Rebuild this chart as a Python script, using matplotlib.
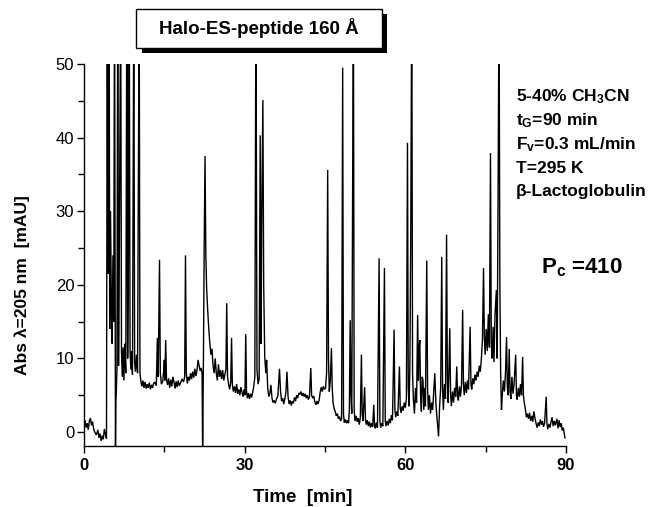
import matplotlib
matplotlib.use("Agg")
import matplotlib.pyplot as plt
from matplotlib.patches import Rectangle
from matplotlib.ticker import MultipleLocator

plt.rcParams['font.family'] = ['Liberation Sans', 'DejaVu Sans']
plt.rcParams['mathtext.fontset'] = 'custom'
plt.rcParams['mathtext.rm'] = 'Liberation Sans:bold'
plt.rcParams['mathtext.it'] = 'Liberation Sans:bold'
plt.rcParams['mathtext.bf'] = 'Liberation Sans:bold'

# chromatogram vertices (time [min], absorbance [mAU]); values >50 are off-scale
trace = [
    (0.0, 0.5), (0.2, 1.6), (0.4, 0.6), (0.6, 1.2), (0.8, 0.3), (1.0, 1.5), (1.2, 1.9), (1.4, 0.9),
    (1.6, 1.4), (1.8, 0.4), (2.0, 0.0), (2.3, -0.4), (2.6, 0.3), (2.8, -0.8), (3.0, -0.2), (3.2, -1.2),
    (3.4, -0.5), (3.6, -1.0), (3.8, 0.4), (4.0, -0.3), (4.2, -0.9),
    (4.35, 60), (4.45, 21.5), (4.55, 30), (4.7, 60), (4.8, 14), (4.95, 30), (5.1, 18), (5.25, 12),
    (5.4, 24), (5.55, 15), (5.7, 60), (5.82, 20), (5.88, -2.5), (5.95, 4.3), (6.05, 6.0), (6.15, 8.5),
    (6.3, 60), (6.45, 9.0), (6.6, 25), (6.85, 60), (7.0, 11), (7.15, 7.5), (7.3, 11.5), (7.45, 7.0),
    (7.6, 12), (7.8, 8.0), (8.0, 60), (8.15, 10), (8.3, 25), (8.45, 60), (8.6, 11), (8.75, 8.5),
    (8.9, 11), (9.05, 7.8), (9.3, 60), (9.45, 9.5), (9.6, 8.2), (9.8, 10.5), (10.0, 8.0), (10.3, 60),
    (10.45, 8.0), (10.6, 7.0), (10.8, 6.2), (11.0, 7.0), (11.2, 6.0), (11.4, 6.8), (11.6, 5.9),
    (11.8, 6.5), (12.0, 6.0), (12.2, 6.7), (12.4, 5.8), (12.6, 6.4), (12.8, 6.0), (13.0, 6.6),
    (13.2, 6.8), (13.5, 6.3), (13.7, 12.8), (13.85, 7.5), (14.1, 23.4), (14.25, 8.0), (14.45, 6.5),
    (14.7, 6.9), (14.9, 8.5), (15.0, 9.8), (15.1, 7.0), (15.25, 12.5), (15.4, 7.2), (15.6, 6.4),
    (15.8, 7.3), (16.0, 6.0), (16.2, 7.1), (16.4, 6.2), (16.6, 7.5), (16.8, 6.8), (17.0, 5.9),
    (17.2, 6.9), (17.4, 6.1), (17.6, 7.0), (17.8, 6.3), (18.0, 6.6), (18.3, 7.2), (18.6, 6.8),
    (18.8, 7.5), (18.95, 24.0), (19.1, 8.0), (19.3, 6.6), (19.5, 7.5), (19.7, 7.0), (19.9, 8.0),
    (20.1, 7.2), (20.3, 8.2), (20.5, 7.4), (20.7, 8.6), (20.9, 7.6), (21.1, 8.4), (21.3, 9.8),
    (21.5, 9.0), (21.7, 8.3), (21.9, 8.7), (22.05, 7.9), (22.15, -2.5), (22.3, 10.0), (22.45, 26.0),
    (22.6, 37.5), (22.75, 24), (22.9, 19.5), (23.1, 16.5), (23.3, 14.0), (23.5, 12.0), (23.7, 10.5),
    (23.9, 11.3), (24.1, 9.0), (24.3, 8.0), (24.5, 10.0), (24.7, 8.0), (24.9, 7.0), (25.1, 9.2),
    (25.3, 7.5), (25.5, 8.4), (25.7, 7.2), (25.9, 8.4), (26.1, 7.0), (26.3, 7.8), (26.5, 8.5),
    (26.65, 17.5), (26.8, 7.5), (27.0, 6.5), (27.2, 5.8), (27.4, 6.8), (27.55, 12.8), (27.7, 6.4),
    (27.9, 5.5), (28.1, 6.2), (28.3, 5.3), (28.5, 6.5), (28.7, 5.2), (28.9, 5.8), (29.1, 5.0),
    (29.3, 6.1), (29.5, 5.4), (29.7, 4.8), (29.9, 5.8), (30.05, 5.0), (30.2, 13.3), (30.35, 5.5),
    (30.5, 4.6), (30.7, 5.3), (30.9, 4.5), (31.1, 5.2), (31.3, 4.7), (31.5, 5.4), (31.7, 6.2),
    (31.9, 7.5), (32.1, 60), (32.3, 8.5), (32.5, 6.5), (32.7, 7.2), (32.9, 40.3), (33.05, 12),
    (33.2, 30), (33.4, 45.1), (33.55, 20), (33.75, 10.2), (33.95, 8.0), (34.1, 9.8), (34.3, 6.0),
    (34.5, 4.8), (34.7, 5.2), (34.9, 6.4), (35.1, 4.6), (35.3, 4.0), (35.5, 4.3), (35.7, 3.9),
    (35.9, 4.4), (36.2, 4.9), (36.5, 8.6), (36.7, 5.5), (36.9, 4.2), (37.1, 4.6), (37.3, 3.8),
    (37.5, 4.5), (37.7, 5.4), (37.9, 8.2), (38.1, 4.8), (38.3, 3.8), (38.5, 4.3), (38.7, 3.6),
    (38.9, 4.2), (39.1, 3.9), (39.3, 4.7), (39.5, 4.2), (39.7, 5.0), (39.9, 4.6), (40.1, 5.3),
    (40.3, 5.1), (40.5, 5.5), (40.7, 4.9), (40.9, 5.3), (41.1, 4.8), (41.3, 5.2), (41.5, 4.6),
    (41.7, 5.0), (41.9, 4.4), (42.1, 4.8), (42.35, 8.7), (42.5, 5.0), (42.7, 4.6), (42.9, 4.9),
    (43.1, 4.1), (43.3, 3.7), (43.5, 4.2), (43.7, 3.8), (43.9, 4.3), (44.1, 5.4), (44.3, 6.1),
    (44.5, 5.5), (44.7, 6.2), (44.9, 5.8), (45.1, 6.0), (45.3, 8.0), (45.5, 35.6), (45.65, 10.0),
    (45.8, 5.5), (46.0, 7.0), (46.2, 11.4), (46.35, 6.0), (46.5, 4.0), (46.7, 3.2), (46.9, 2.8),
    (47.1, 2.2), (47.3, 2.5), (47.5, 1.8), (47.7, 2.1), (47.9, 1.5), (48.1, 1.8), (48.3, 49.5),
    (48.45, 2.5), (48.6, 1.3), (48.8, 1.7), (49.0, 1.2), (49.2, 1.6), (49.4, 1.2), (49.55, 3.0),
    (49.7, 15.2), (49.85, 5.0), (50.0, 2.5), (50.3, 60), (50.45, 3.0), (50.6, 1.5), (50.8, 2.2),
    (51.0, 1.4), (51.2, 1.9), (51.4, 1.0), (51.6, 2.0), (51.8, 10.5), (51.95, 2.5), (52.1, 1.5),
    (52.4, 6.1), (52.55, 1.8), (52.7, 1.0), (52.9, 1.6), (53.1, 0.8), (53.3, 1.4), (53.5, 0.6),
    (53.7, 1.2), (53.9, 0.7), (54.1, 3.7), (54.25, 0.9), (54.4, 0.5), (54.6, 1.3), (54.8, 0.6),
    (55.1, 23.6), (55.25, 1.5), (55.4, 0.6), (55.6, 1.2), (55.8, 0.8), (56.1, 22.3), (56.25, 1.5),
    (56.4, 0.8), (56.6, 1.5), (56.8, 0.9), (57.0, 1.8), (57.2, 1.2), (57.4, 2.3), (57.6, 1.6),
    (57.9, 13.9), (58.05, 3.0), (58.2, 2.0), (58.4, 2.8), (58.6, 2.2), (58.9, 8.9), (59.05, 3.2),
    (59.2, 2.6), (59.4, 3.5), (59.6, 2.9), (59.8, 4.0), (60.0, 3.3), (60.2, 4.5), (60.4, 39.3),
    (60.55, 6.0), (60.7, 3.5), (60.85, 9.0), (61.0, 25.0), (61.2, 60), (61.35, 8.0), (61.5, 4.5),
    (61.7, 2.5), (61.9, 6.0), (62.1, 4.0), (62.3, 15.9), (62.45, 7.0), (62.55, 11), (62.7, 12.5),
    (62.85, 5.0), (63.0, 2.8), (63.15, 7.5), (63.3, 7.0), (63.45, 3.0), (63.6, 6.0), (63.75, 3.5),
    (64.0, 23.3), (64.15, 6.0), (64.3, 3.0), (64.5, 5.0), (64.7, 2.5), (64.9, 4.0), (65.1, 3.0),
    (65.3, 5.5), (65.5, 8.0), (65.7, 4.0), (65.9, 2.0), (66.2, -0.6), (66.4, 3.5), (66.6, 6.0),
    (66.8, 23.8), (66.95, 6.0), (67.1, 3.0), (67.3, 6.5), (67.5, 4.5), (67.7, 26.8), (67.85, 7.0),
    (68.0, 4.0), (68.3, 14.1), (68.45, 5.0), (68.6, 3.5), (68.8, 5.5), (69.0, 4.0), (69.2, 6.0),
    (69.4, 4.8), (69.6, 8.9), (69.75, 5.0), (69.9, 4.3), (70.1, 6.2), (70.3, 4.8), (70.5, 6.5),
    (70.7, 16.6), (70.85, 6.5), (71.0, 5.0), (71.2, 6.8), (71.4, 5.3), (71.6, 7.0), (71.8, 5.8),
    (72.1, 14.3), (72.25, 6.5), (72.4, 5.8), (72.6, 7.3), (72.8, 6.5), (73.0, 7.8), (73.2, 7.0),
    (73.4, 8.2), (73.6, 7.5), (73.8, 9.0), (74.0, 8.2), (74.2, 10.0), (74.4, 12.5), (74.6, 22.3),
    (74.75, 13.0), (74.9, 10.5), (75.1, 14.0), (75.3, 11.0), (75.5, 16.0), (75.7, 11.5), (75.9, 37.9),
    (76.05, 12.0), (76.2, 10.0), (76.4, 14.3), (76.55, 9.5), (76.75, 16.0), (77.0, 19.3), (77.15, 10.0),
    (77.3, 30.0), (77.5, 60), (77.65, 20), (77.8, 8.0), (77.95, 3.0), (78.1, 5.0), (78.3, 7.0),
    (78.5, 5.5), (78.7, 8.0), (78.9, 12.9), (79.05, 6.0), (79.2, 5.0), (79.4, 11.3), (79.55, 5.5),
    (79.7, 4.5), (79.9, 7.5), (80.1, 5.2), (80.3, 6.5), (80.6, 10.5), (80.75, 5.0), (80.9, 4.4),
    (81.1, 6.0), (81.3, 4.8), (81.5, 6.5), (81.7, 5.0), (81.9, 10.2), (82.05, 5.0), (82.2, 4.0),
    (82.4, 3.2), (82.6, 2.0), (82.8, 2.5), (83.0, 1.8), (83.2, 2.6), (83.4, 1.5), (83.6, 2.2),
    (83.8, 1.4), (84.0, 2.8), (84.2, 1.9), (84.4, 1.2), (84.6, 0.6), (84.8, 1.3), (85.0, 0.8),
    (85.2, 1.7), (85.4, 1.0), (85.6, 1.5), (85.8, 0.7), (86.0, 1.2), (86.3, 4.8), (86.45, 1.0),
    (86.6, 0.4), (86.8, 1.1), (87.0, 0.6), (87.2, 1.4), (87.4, 2.0), (87.6, 0.8), (87.8, 1.5),
    (88.0, 0.9), (88.3, 1.8), (88.5, 0.5), (88.7, 1.6), (88.9, 0.7), (89.1, 1.2), (89.3, 0.2),
    (89.5, 0.6), (89.8, -0.8),
]
time_min = [p[0] for p in trace]
absorbance = [p[1] for p in trace]

x_ticks = [0, 30, 60, 90]
y_ticks = [0, 10, 20, 30, 40, 50]
title = "Halo-ES-peptide 160 Å"
conditions = ["5-40% CH$_3$CN", "t$_G$=90 min", "F$_v$=0.3 mL/min", "T=295 K", "β-Lactoglobulin"]
pc_label = "P$_c$ =410"

W, H = 655, 507
fig = plt.figure(figsize=(W / 100, H / 100), dpi=100)
ax = fig.add_axes([84 / W, 1 - 446 / H, (566 - 84) / W, (446 - 64) / H])

ax.plot(time_min, absorbance, color='black', lw=1.0, solid_joinstyle='miter')
ax.set_xlim(0, 90)
ax.set_ylim(-1.9, 50)
ax.spines['top'].set_visible(False)
ax.spines['right'].set_visible(False)
ax.spines['left'].set_bounds(-1.9, 50)
for s in ax.spines.values():
    s.set_linewidth(1.0)
ax.set_xticks(x_ticks)
ax.set_yticks(y_ticks)
ax.xaxis.set_minor_locator(MultipleLocator(15))
ax.yaxis.set_minor_locator(MultipleLocator(5))
ax.tick_params(which='major', direction='out', length=5, width=1.0)
ax.tick_params(which='minor', direction='out', length=4, width=1.0)
ax.tick_params(axis='x', labelsize=12, pad=4)
ax.tick_params(axis='y', labelsize=12, pad=2)
for lb in ax.get_xticklabels():
    lb.set_fontweight('bold')

fig.text(303 / W, 1 - 497 / H, "Time  [min]", ha='center', va='center', fontsize=13.5, fontweight='bold')
fig.text(22 / W, 1 - 285 / H, "Abs λ=205 nm  [mAU]", ha='center', va='center', rotation=90,
         fontsize=12.5, fontweight='bold')

# title box with shadow
def px_rect(x0, y0, x1, y1, **kw):
    return Rectangle((x0 / W, 1 - y1 / H), (x1 - x0) / W, (y1 - y0) / H,
                     transform=fig.transFigure, **kw)

fig.add_artist(px_rect(142, 14, 387, 53, facecolor='black', edgecolor='black', lw=0))
fig.add_artist(px_rect(136, 9, 382, 48, facecolor='white', edgecolor='black', lw=1.0))
fig.text(259 / W, 1 - 28.5 / H, title, ha='center', va='center', fontsize=13.5, fontweight='bold')

ys = [97, 121, 145, 169, 192]
for txt, y in zip(conditions, ys):
    fig.text(516 / W, 1 - y / H, txt, ha='left', va='center', fontsize=12.5, fontweight='bold')
fig.text(541 / W, 1 - 268 / H, pc_label, ha='left', va='center', fontsize=16, fontweight='bold')

fig.savefig("out.png", dpi=100)
